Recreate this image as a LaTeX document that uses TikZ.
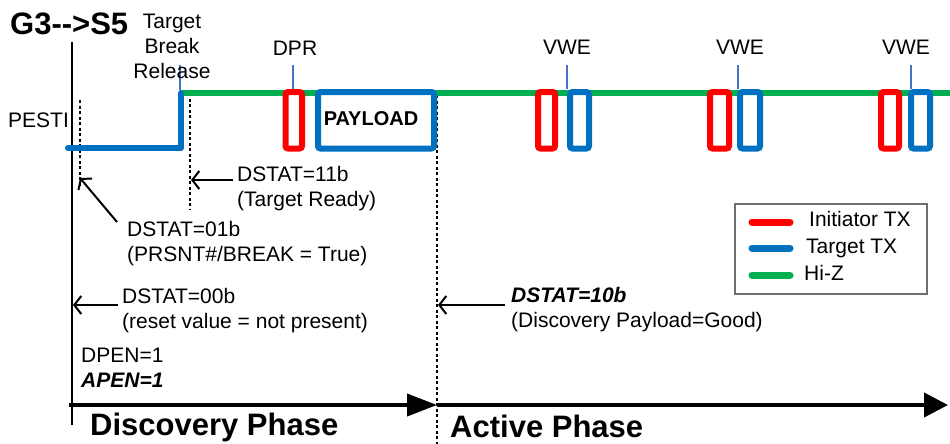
\documentclass[tikz,border=0pt]{standalone}
\usepackage{fontspec}
\setmainfont{Liberation Sans}
\usetikzlibrary{arrows.meta}
\definecolor{sigred}{RGB}{255,0,0}
\definecolor{sigblue}{RGB}{0,112,192}
\definecolor{siggreen}{RGB}{0,176,80}
\definecolor{tickblue}{RGB}{68,114,196}
\definecolor{legframe}{RGB}{110,110,110}
\begin{document}
\begin{tikzpicture}[x=1pt,y=-1pt,
  lbl/.style={font=\fontsize{21}{24}\selectfont, inner sep=0pt},
  hdr/.style={font=\fontsize{31}{36}\selectfont\bfseries, inner sep=0pt},
  sig/.style={line width=6pt, line cap=round, line join=round},
  pulse/.style={draw, line width=6pt, rounded corners=2.5pt, fill=white, inner sep=0pt},
  tickmark/.style={line width=1.5pt, tickblue},
  dots/.style={line width=2.4pt, dash pattern=on 3pt off 2.5pt},
  note/.style={line width=2pt, -{Straight Barb[length=7pt,width=18pt]}},
  axis/.style={line width=4pt, -{Triangle[length=30pt,width=22pt]}},
  legline/.style={line width=7pt, line cap=round},
]
\useasboundingbox (0,0) rectangle (950,444);

% title
\node[font=\fontsize{31}{36}\selectfont\bfseries, inner sep=0pt, anchor=base west] (title) at (10,35) {G3\mbox{-}\mbox{-}>S5};

% main vertical line
\coordinate (vtop) at (72,42);
\coordinate (vbot) at (72,425);
\draw[line width=2.5pt] (vtop) -- (vbot);

% dotted markers
\coordinate (d1t) at (80,100);  \coordinate (d1b) at (80,186);
\coordinate (d2t) at (190,93);  \coordinate (d2b) at (190,210);
\coordinate (d3t) at (437,95);  \coordinate (d3b) at (437,444);
\draw[dots] (d1t) -- (d1b);
\draw[dots] (d2t) -- (d2b);
\draw[dots] (d3t) -- (d3b);

% signals
\coordinate (s0) at (68,148);
\coordinate (s1) at (181,148);
\coordinate (s2) at (181,93);
\coordinate (s3) at (950,93);
\draw[sig, siggreen, line cap=butt] (s2) -- (s3);
\draw[sig, sigblue] (s0) -- (s1) -- (s2);

% pulses
\node[pulse, draw=sigred, minimum width=16.5pt, minimum height=56.5pt] (dpr) at (293.75,120.25) {};
\node[pulse, draw=sigblue, minimum width=116pt, minimum height=56.5pt] (payload) at (376,120.25) {};
\node[font=\fontsize{20}{24}\selectfont\bfseries, inner sep=0pt, anchor=base] (payloadtxt) at (371,125) {PAYLOAD};

\node[pulse, draw=sigred, minimum width=17pt, minimum height=56.5pt] (r1) at (546.5,120.25) {};
\node[pulse, draw=sigblue, minimum width=19pt, minimum height=56.5pt] (b1) at (579.5,120.25) {};
\node[pulse, draw=sigred, minimum width=19pt, minimum height=56.5pt] (r2) at (719.5,120.25) {};
\node[pulse, draw=sigblue, minimum width=20pt, minimum height=56.5pt] (b2) at (750,120.25) {};
\node[pulse, draw=sigred, minimum width=18pt, minimum height=56.5pt] (r3) at (890,120.25) {};
\node[pulse, draw=sigblue, minimum width=19pt, minimum height=56.5pt] (b3) at (920.5,120.25) {};

% ticks
\coordinate (tb0) at (180,65); \coordinate (tb1) at (180,90);
\draw[tickmark] (tb0) -- (tb1);
\coordinate (tdpr) at (293,65);
\draw[tickmark] (tdpr) -- (dpr.north -| tdpr);
\coordinate (tv1) at (567,65); \draw[tickmark] (tv1) -- (b1.north -| tv1);
\coordinate (tv2) at (738,65); \draw[tickmark] (tv2) -- (b2.north -| tv2);
\coordinate (tv3) at (911,65); \draw[tickmark] (tv3) -- (b3.north -| tv3);

% top labels
\node[lbl, anchor=base] (tbr1) at (172,28.5) {Target};
\node[lbl, anchor=base] (tbr2) at (172,53) {Break};
\node[lbl, anchor=base] (tbr3) at (172,78.5) {Release};
\node[lbl, anchor=base] (dprtxt) at (295,56) {DPR};
\node[lbl, anchor=base] (vwe1) at (567,55) {VWE};
\node[lbl, anchor=base] (vwe2) at (740,55) {VWE};
\node[lbl, anchor=base] (vwe3) at (906,55) {VWE};
\node[lbl, anchor=base west] (pesti) at (8,127) {PESTI};

% annotations
\coordinate (a11s) at (233,180); \coordinate (a11e) at (191,180);
\draw[note] (a11s) -- (a11e);
\node[lbl, anchor=base west] (t11a) at (237,181) {DSTAT=11b};
\node[lbl, anchor=base west] (t11b) at (237,206) {(Target Ready)};

\coordinate (a01s) at (117,222); \coordinate (a01e) at (80,178);
\draw[note] (a01s) -- (a01e);
\node[lbl, anchor=base west] (t01a) at (127,236.5) {DSTAT=01b};
\node[lbl, anchor=base west] (t01b) at (127,261.5) {(PRSNT\#/BREAK = True)};

\coordinate (a00s) at (118,305); \coordinate (a00e) at (73,305);
\draw[note] (a00s) -- (a00e);
\node[lbl, anchor=base west] (t00a) at (122,303) {DSTAT=00b};
\node[lbl, anchor=base west] (t00b) at (122,328) {(reset value = not present)};

\node[lbl, anchor=base west] (dpen) at (81,362.5) {DPEN=1};
\node[lbl, anchor=base west, font=\fontsize{21}{24}\selectfont\bfseries\itshape] (apen) at (81,387) {APEN=1};

\coordinate (a10s) at (505,305); \coordinate (a10e) at (438,305);
\draw[note] (a10s) -- (a10e);
\node[lbl, anchor=base west, font=\fontsize{21}{24}\selectfont\bfseries\itshape] (t10a) at (511,302) {DSTAT=10b};
\node[lbl, anchor=base west] (t10b) at (511,327) {(Discovery Payload=Good)};

% axis
\coordinate (ax0) at (69,405);
\coordinate (ax1) at (437,405);
\coordinate (ax2) at (948,405);
\draw[axis] (ax0) -- (ax1);
\draw[axis, -{Triangle[length=24pt,width=24pt]}] (ax1) -- (ax2);
\node[hdr, anchor=base west] (disc) at (90,435) {Discovery Phase};
\node[hdr, anchor=base west] (act) at (450,437) {Active Phase};

% legend
\node[draw=legframe, line width=1.5pt, minimum width=192pt, minimum height=90pt, inner sep=0pt] (legend) at (831,249) {};
\coordinate (l1a) at (752,222); \coordinate (l1b) at (790,222);
\coordinate (l2a) at (752,248); \coordinate (l2b) at (790,248);
\coordinate (l3a) at (752,275); \coordinate (l3b) at (790,275);
\draw[legline, sigred] (l1a) -- (l1b);
\draw[legline, sigblue] (l2a) -- (l2b);
\draw[legline, siggreen] (l3a) -- (l3b);
\node[lbl, anchor=base west] (leg1) at (809,226) {Initiator TX};
\node[lbl, anchor=base west] (leg2) at (806,253) {Target TX};
\node[lbl, anchor=base west] (leg3) at (804,280) {Hi-Z};
\end{tikzpicture}
\end{document}
